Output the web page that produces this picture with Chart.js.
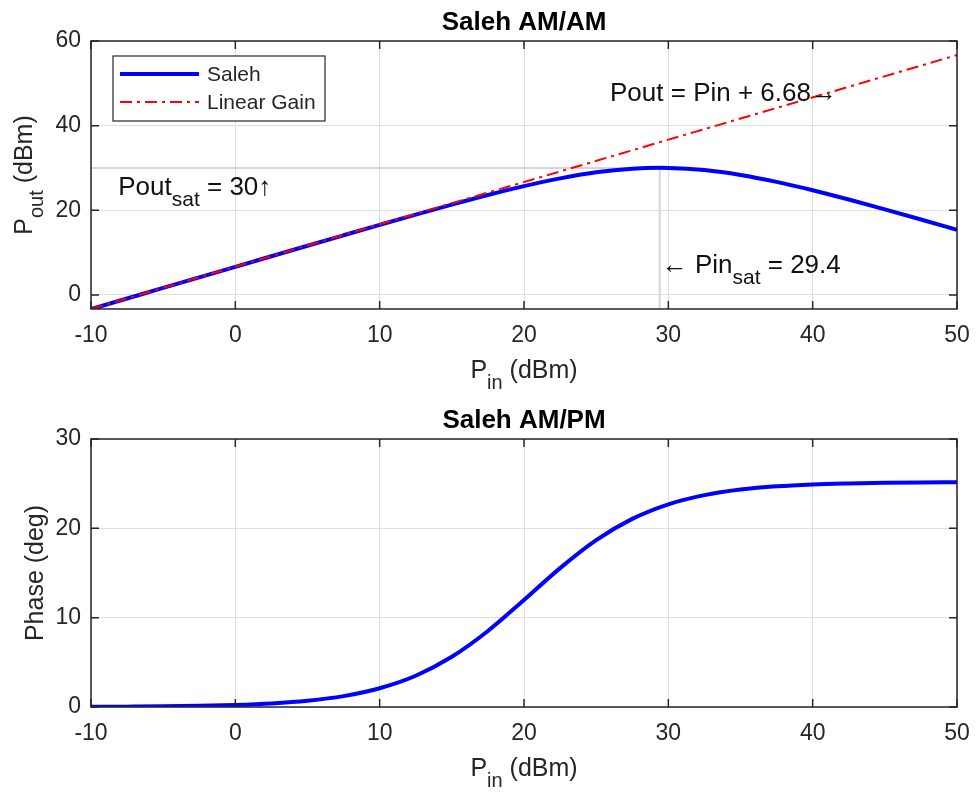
<!DOCTYPE html>
<html><head><meta charset="utf-8">
<script src="https://cdn.jsdelivr.net/npm/chart.js@4.4.1/dist/chart.umd.min.js"></script>
<style>
html,body{margin:0;padding:0;background:#fff;}
#wrap{position:relative;width:976px;height:795px;background:#fff;}
canvas{position:absolute;left:0;}
</style></head><body>
<div id="wrap">
<canvas id="c1" width="976" height="398" style="top:0px"></canvas>
<canvas id="c2" width="976" height="397" style="top:398px"></canvas>
</div>
<script>
// ---------- data ----------
const pinIn = [-10, -7.5, -5, -2.5, 0, 2.5, 5, 7.5, 10, 12.5, 15, 17.5, 20, 22.5, 25, 27.5, 29.4, 30, 32.5, 35, 37.5, 40, 42.5, 45, 47.5, 50];
const poutSaleh = [-3.34, -0.84, 1.66, 4.15, 6.65, 9.14, 11.63, 14.10, 16.56, 18.99, 21.35, 23.62, 25.72, 27.55, 28.97, 29.83, 30.04, 30.02, 29.50, 28.35, 26.71, 24.74, 22.54, 20.22, 17.83, 15.39];
const linearPin = [-10, 50];
const linearPout = [-3.32, 56.68];
const satLinePin = [-10, 29.4, 29.4];
const satLinePout = [30, 30, -3.32];
const pinPM = [-10, -7.5, -5, -2.5, 0, 2.5, 5, 7.5, 10, 12.5, 15, 17.5, 20, 22.5, 25, 27.5, 30, 32.5, 35, 37.5, 40, 42.5, 45, 47.5, 50];
const phaseDeg = [0.02, 0.04, 0.07, 0.13, 0.23, 0.40, 0.70, 1.22, 2.10, 3.50, 5.62, 8.51, 11.98, 15.55, 18.68, 21.06, 22.69, 23.72, 24.34, 24.71, 24.92, 25.03, 25.10, 25.14, 25.16];
const xTicks = [-10, 0, 10, 20, 30, 40, 50];
const yTicksAM = [0, 20, 40, 60];
const yTicksPM = [0, 10, 20, 30];

// ---------- styling / layout ----------
const FONT = '"Liberation Sans", Arial, Helvetica, sans-serif';
const TXT = '#262626';
const TICKLEN = 8;
const toXY = (xs, ys) => xs.map((x, i) => ({x: x, y: ys[i]}));

function drawRich(ctx, parts, x, y, align) {
  let w = 0;
  parts.forEach(p => { ctx.font = (p.bold ? 'bold ' : '') + p.size + 'px ' + FONT; p.w = ctx.measureText(p.t).width; w += p.w; });
  let cx = align === 'center' ? x - w / 2 : x;
  ctx.textAlign = 'left'; ctx.textBaseline = 'alphabetic';
  parts.forEach(p => { ctx.font = (p.bold ? 'bold ' : '') + p.size + 'px ' + FONT; ctx.fillText(p.t, cx, y + (p.dy || 0)); cx += p.w; });
}

const overlay = {
  id: 'overlay',
  afterDatasetsDraw(chart, args, o) {
    const ctx = chart.ctx, a = chart.chartArea, xs = chart.scales.x, ys = chart.scales.y;
    ctx.save();
    // axes box
    ctx.strokeStyle = TXT; ctx.lineWidth = 1.5; ctx.setLineDash([]);
    ctx.strokeRect(a.left, a.top, a.right - a.left, a.bottom - a.top);
    // inward ticks on all sides
    ctx.beginPath();
    xs.ticks.forEach(t => { const p = xs.getPixelForValue(t.value);
      ctx.moveTo(p, a.bottom); ctx.lineTo(p, a.bottom - TICKLEN);
      ctx.moveTo(p, a.top); ctx.lineTo(p, a.top + TICKLEN); });
    ys.ticks.forEach(t => { const p = ys.getPixelForValue(t.value);
      ctx.moveTo(a.left, p); ctx.lineTo(a.left + TICKLEN, p);
      ctx.moveTo(a.right, p); ctx.lineTo(a.right - TICKLEN, p); });
    ctx.stroke();
    ctx.fillStyle = '#000';
    // title
    drawRich(ctx, [{t: o.title, size: 26, bold: true}], (a.left + a.right) / 2, 30, 'center');
    ctx.fillStyle = TXT;
    // x label
    drawRich(ctx, o.xLabel, (a.left + a.right) / 2, 378, 'center');
    // y label (rotated)
    ctx.save();
    ctx.translate(o.yLabelX, (a.top + a.bottom) / 2);
    ctx.rotate(-Math.PI / 2);
    drawRich(ctx, o.yLabel, 0, 0, 'center');
    ctx.restore();
    // legend
    if (o.legend) {
      const L = o.legend;
      ctx.fillStyle = '#fff'; ctx.fillRect(L.x, L.y, L.w, L.h);
      ctx.strokeStyle = TXT; ctx.lineWidth = 1.2; ctx.strokeRect(L.x, L.y, L.w, L.h);
      L.items.forEach((it, i) => {
        const yy = L.y + L.rowY[i];
        ctx.strokeStyle = it.color; ctx.lineWidth = it.width; ctx.setLineDash(it.dash || []);
        ctx.beginPath(); ctx.moveTo(L.x + 7, yy); ctx.lineTo(L.x + 86, yy); ctx.stroke();
        ctx.setLineDash([]);
        ctx.fillStyle = TXT; ctx.font = '21px ' + FONT; ctx.textAlign = 'left'; ctx.textBaseline = 'middle';
        ctx.fillText(it.label, L.x + 94, yy + 1);
      });
    }
    // annotations
    (o.notes || []).forEach(n => {
      ctx.fillStyle = '#111';
      drawRich(ctx, n.parts, xs.getPixelForValue(n.x), ys.getPixelForValue(n.y), 'left');
    });
    ctx.restore();
  }
};

function makeChart(id, H, datasets, yMin, yMax, yTicks, ov) {
  return new Chart(document.getElementById(id), {
    type: 'line',
    data: { datasets: datasets },
    options: {
      responsive: false, animation: false, devicePixelRatio: 1,
      layout: { padding: { top: 41, right: 19, left: 0, bottom: 0 } },
      plugins: { legend: { display: false }, title: { display: false }, tooltip: { enabled: false }, overlay: ov },
      elements: { point: { radius: 0, hoverRadius: 0 } },
      scales: {
        x: {
          type: 'linear', min: -10, max: 50,
          afterBuildTicks: s => { s.ticks = xTicks.map(v => ({value: v})); },
          afterFit: s => { s.height = H - 309; s.paddingLeft = 0; s.paddingRight = 0; },
          grid: { color: '#dfdfdf', lineWidth: 1, drawTicks: false },
          border: { display: false },
          ticks: { font: { family: FONT, size: 23 }, color: TXT, padding: 13, maxRotation: 0, autoSkip: false }
        },
        y: {
          type: 'linear', min: yMin, max: yMax,
          afterBuildTicks: s => { s.ticks = yTicks.map(v => ({value: v})); },
          afterFit: s => { s.width = 91; s.paddingTop = 0; s.paddingBottom = 0; },
          grid: { color: '#dfdfdf', lineWidth: 1, drawTicks: false },
          border: { display: false },
          ticks: { font: { family: FONT, size: 23 }, color: TXT, padding: 10, autoSkip: false }
        }
      }
    },
    plugins: [overlay]
  });
}

const sub = (t) => ({t: t, size: 20, dy: 11});
const big = (t) => ({t: t, size: 25});
const note = (t) => ({t: t, size: 26});
const noteSub = (t) => ({t: t, size: 21, dy: 11});

makeChart('c1', 398, [
  { label: 'Linear Gain', data: toXY(linearPin, linearPout), borderColor: '#ff0000', borderWidth: 2, borderDash: [12, 5, 3, 5], fill: false },
  { label: 'Saleh', data: toXY(pinIn, poutSaleh), borderColor: '#0000ff', borderWidth: 4, cubicInterpolationMode: 'monotone', fill: false },
  { label: 'sat', data: toXY(satLinePin, satLinePout), borderColor: '#d6d6d6', borderWidth: 2, fill: false }
], -3.32, 60, yTicksAM, {
  title: 'Saleh AM/AM',
  xLabel: [big('P'), sub('in'), big(' (dBm)')],
  yLabel: [big('P'), sub('out'), big(' (dBm)')],
  yLabelX: 32,
  legend: { x: 113, y: 56, w: 212, h: 65, rowY: [18, 46], items: [
    { label: 'Saleh', color: '#0000ff', width: 4 },
    { label: 'Linear Gain', color: '#ff0000', width: 2, dash: [12, 5, 3, 5] }
  ]},
  notes: [
    { x: -8.11, y: 23.5, parts: [note('Pout'), noteSub('sat'), note(' = 30\u2191')] },
    { x: 25.96, y: 45.88, parts: [note('Pout = Pin + 6.68\u2192')] },
    { x: 29.54, y: 5.15, parts: [note('\u2190 Pin'), noteSub('sat'), note(' = 29.4')] }
  ]
});

makeChart('c2', 397, [
  { label: 'Phase', data: toXY(pinPM, phaseDeg), borderColor: '#0000ff', borderWidth: 4, cubicInterpolationMode: 'monotone', fill: false }
], 0, 30, yTicksPM, {
  title: 'Saleh AM/PM',
  xLabel: [big('P'), sub('in'), big(' (dBm)')],
  yLabel: [big('Phase (deg)')],
  yLabelX: 43
});
</script>
</body></html>
